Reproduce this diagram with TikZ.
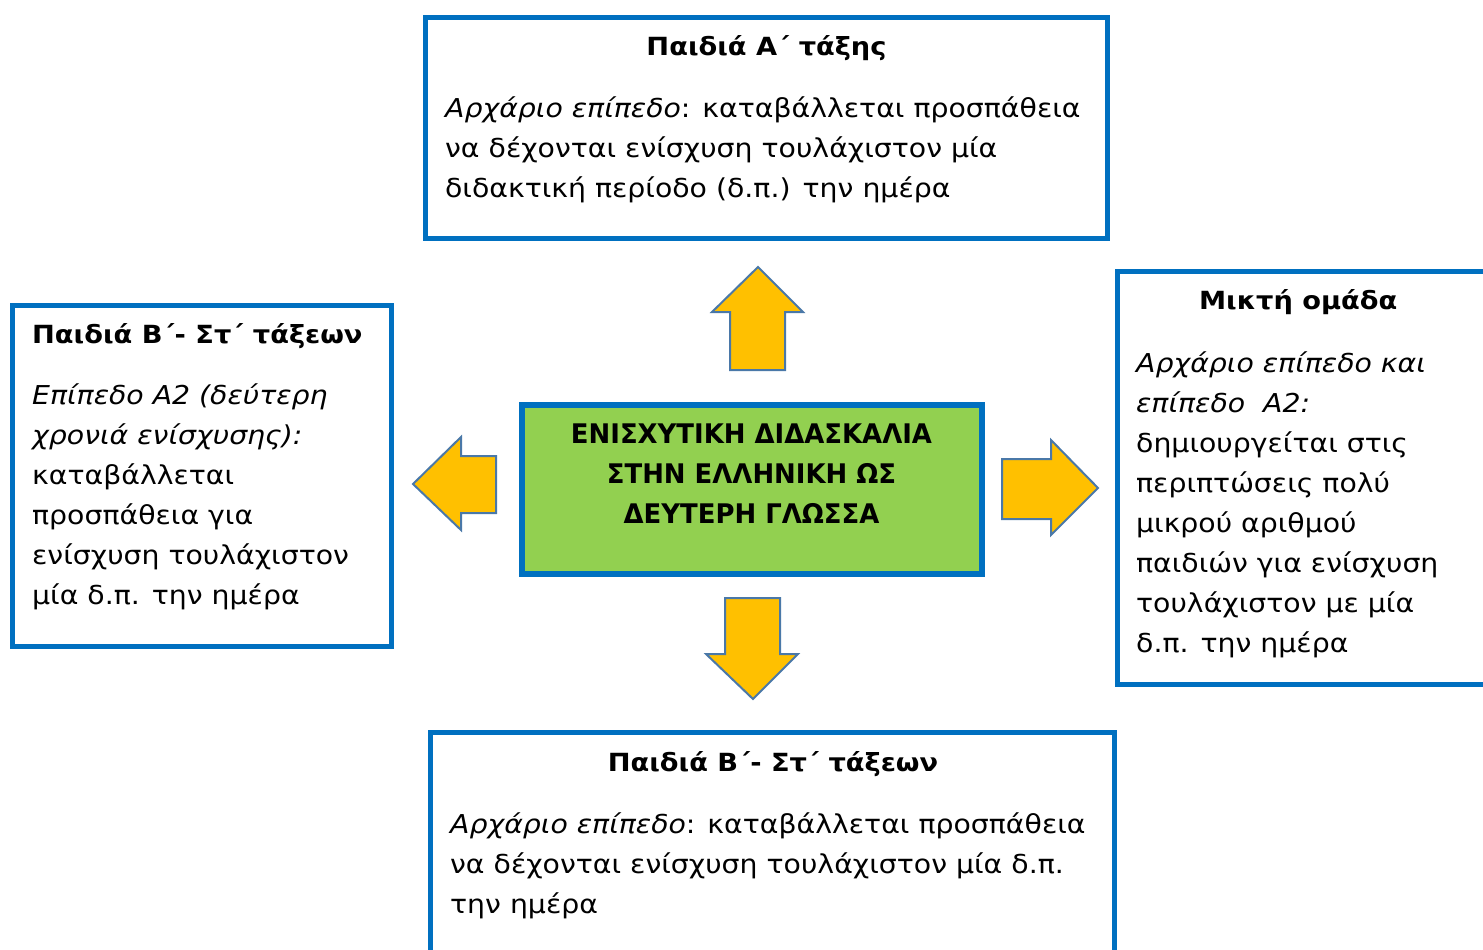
\documentclass[tikz,border=0pt]{standalone}
\usepackage{fontspec}
\setmainfont{DejaVu Sans}[FakeStretch=1.09]
\newfontfamily\corefont{DejaVu Sans}[FakeStretch=0.96]
\usepackage{tikz}
\usetikzlibrary{positioning,calc}
\definecolor{Bluecolor}{HTML}{0070C0}
\definecolor{Greencolor}{HTML}{92D050}
\definecolor{Goldcolor}{HTML}{FFC000}
\definecolor{Edgecolor}{HTML}{4A78A8}

\begin{document}
\begin{tikzpicture}[
  x=0.5pt, y=-0.5pt,
  box/.style={draw=Bluecolor, line width=2.25pt, fill=white, inner sep=0},
  core/.style={draw=Bluecolor, line width=3pt, fill=Greencolor, inner sep=0},
  blockarr/.style={draw=Edgecolor, line width=1pt, fill=Goldcolor, line join=miter},
  ttl/.style={font=\fontsize{12.5}{20}\selectfont\bfseries, anchor=base, inner sep=0},
  body/.style={font=\fontsize{13}{20}\selectfont, align=left, anchor=base west, inner sep=0},
]
  \useasboundingbox (0,0) rectangle (1483,949);

  % Central box
  \node[core, minimum width=230pt, minimum height=84.5pt] (core) at (751.5,489) {};
  \node[font=\corefont\fontsize{13.5}{20}\selectfont\bfseries, align=center, anchor=base, inner sep=0]
    (coretxt) at ($(core.north)+(0,121.5)$)
    {ΕΝΙΣΧΥΤΙΚΗ ΔΙΔΑΣΚΑΛΙΑ\\ΣΤΗΝ ΕΛΛΗΝΙΚΗ ΩΣ\\ΔΕΥΤΕΡΗ ΓΛΩΣΣΑ};

  % Outer boxes
  \node[box, minimum width=341pt, minimum height=110.5pt] (topbox) at (766.5,128) {};
  \node[box, minimum width=189.5pt, minimum height=170.5pt] (leftbox) at (202,476) {};
  \node[box, minimum width=191.25pt, minimum height=206.5pt] (rightbox) at (1308.75,478) {};
  \node[box, minimum width=342pt, minimum height=113.75pt] (botbox) at (772.5,846.25) {};

  % Texts of the boxes (multi-line texts sit on their last line)
  \node[ttl] (topttl) at ($(topbox.north)+(0,40.5)$) {Παιδιά Α΄ τάξης};
  \node[body] (toptxt) at ($(topbox.north west)+(21.5,182.5)$)
    {\textit{Αρχάριο επίπεδο}: καταβάλλεται προσπάθεια\\
     να δέχονται ενίσχυση τουλάχιστον μία\\
     διδακτική περίοδο (δ.π.) την ημέρα};

  \node[ttl, anchor=base west] (leftttl) at ($(leftbox.north west)+(21.5,40.5)$) {Παιδιά Β΄- Στ΄ τάξεων};
  \node[body] (lefttxt) at ($(leftbox.north west)+(21.5,301.5)$)
    {\textit{Επίπεδο Α2 (δεύτερη}\\
     \textit{χρονιά ενίσχυσης):}\\
     καταβάλλεται\\
     προσπάθεια για\\
     ενίσχυση τουλάχιστον\\
     μία δ.π. την ημέρα};

  \node[ttl] (rightttl) at ($(rightbox.north west)+(183,40.5)$) {Μικτή ομάδα};
  \node[body] (righttxt) at ($(rightbox.north west)+(20.5,383)$)
    {\textit{Αρχάριο επίπεδο και}\\
     \textit{επίπεδο\ \ Α2:}\\
     δημιουργείται στις\\
     περιπτώσεις πολύ\\
     μικρού αριθμού\\
     παιδιών για ενίσχυση\\
     τουλάχιστον με μία\\
     δ.π. την ημέρα};

  \node[ttl] (botttl) at ($(botbox.north)+(0.5,41.5)$) {Παιδιά Β΄- Στ΄ τάξεων};
  \node[body] (bottxt) at ($(botbox.north west)+(21.5,183.5)$)
    {\textit{Αρχάριο επίπεδο}: καταβάλλεται προσπάθεια\\
     να δέχονται ενίσχυση τουλάχιστον μία δ.π.\\
     την ημέρα};

  % Block arrows
  \draw[blockarr] (758,267) -- (803,312) -- (785,312) -- (785,370) -- (730,370)
    -- (730,312) -- (712,312) -- cycle;
  \draw[blockarr] (753,699) -- (798,654) -- (780,654) -- (780,598) -- (725,598)
    -- (725,654) -- (706,654) -- cycle;
  \draw[blockarr] (413,484) -- (461,437) -- (461,456) -- (496,456) -- (496,513)
    -- (461,513) -- (461,530) -- cycle;
  \draw[blockarr] (1098,488) -- (1051,440) -- (1051,459) -- (1002,459) -- (1002,519)
    -- (1051,519) -- (1051,535) -- cycle;
\end{tikzpicture}
\end{document}
